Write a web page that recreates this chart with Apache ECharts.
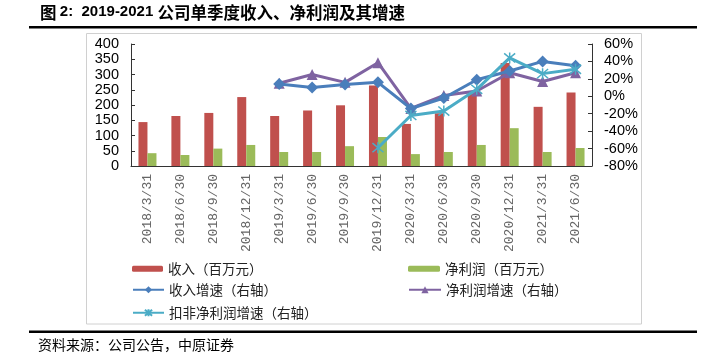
<!DOCTYPE html>
<html>
<head>
<meta charset="utf-8">
<script src="https://cdn.jsdelivr.net/npm/echarts@6/dist/echarts.min.js"></script>
<style>
html,body{margin:0;padding:0;background:#fff;}
#c{width:718px;height:363px;}
</style>
</head>
<body>
<div id="c"></div>
<script>
var categories = ['2018/3/31','2018/6/30','2018/9/30','2018/12/31','2019/3/31','2019/6/30','2019/9/30','2019/12/31','2020/3/31','2020/6/30','2020/9/30','2020/12/31','2021/3/31','2021/6/30'];
var revenue = [144, 164, 174, 226, 164, 182, 199, 264, 138, 173, 239, 338, 194, 241];
var netProfit = [42, 36, 57, 69, 46, 46, 65, 95, 39, 46, 69, 124, 46, 59];
var revenueGrowth = [null, null, null, null, 14, 10, 13.5, 16, -14, -2, 19, 29, 40, 35];
var profitGrowth = [null, null, null, null, 15, 25, 16, 38.5, -14, 1, 6, 27, 17, 27];
var deductedGrowth = [null, null, null, null, null, null, null, -59, -22, -17, 8, 44, 26, 31];
var leftTicks = {min: 0, max: 400, interval: 50};
var rightTicks = {min: -80, max: 60, interval: 20};

var chart = echarts.init(document.getElementById('c'));
var legendText = {fontFamily: 'Noto Sans CJK SC', fontSize: 13.5, color: '#222'};
function lg(name, left, top, w, h) {
  return {data: [name], left: left, top: top, padding: 0, itemWidth: w, itemHeight: h, itemGap: 0, textStyle: legendText, selectedMode: false};
}
var asterisk = 'path://M0,0L10,10M10,0L0,10M5,-1L5,11';
chart.setOption({
  animation: false,
  title: {show: false},
  graphic: [
    {type: 'text', left: 40, top: 4, style: {
      text: '{a|图} {b|2:  2019-2021 }{a|公司单季度收入、净利润及其增速}',
      rich: {
        a: {fontFamily: 'Noto Sans CJK SC', fontWeight: 'bold', fontSize: 16.5, fill: '#000'},
        b: {fontFamily: 'Liberation Sans', fontWeight: 'bold', fontSize: 15, fill: '#000'}
      }}},
    {type: 'rect', shape: {x: 29, y: 26, width: 668, height: 2.5}, style: {fill: '#000'}},
    {type: 'rect', shape: {x: 86.5, y: 33.5, width: 555, height: 290.5}, style: {fill: 'none', stroke: '#d0d0d0', lineWidth: 1}},
    {type: 'rect', shape: {x: 29, y: 330.5, width: 668, height: 2.5}, style: {fill: '#000'}},
    {type: 'text', left: 38, top: 338, style: {text: '资料来源：公司公告，中原证券', fontFamily: 'Noto Sans CJK SC', fontSize: 14, fill: '#000'}}
  ],
  legend: [
    lg('收入（百万元）', 132, 262, 31, 6),
    lg('净利润（百万元）', 408, 262, 32, 6),
    lg('收入增速（右轴）', 132, 283, 31, 9),
    lg('净利润增速（右轴）', 408, 283, 32, 9),
    lg('扣非净利润增速（右轴）', 132, 306, 31, 9)
  ],
  grid: {left: 131, right: 126, top: 44, bottom: 197, containLabel: false},
  xAxis: {
    type: 'category', data: categories, boundaryGap: true,
    axisLine: {lineStyle: {color: '#333', width: 1}},
    axisTick: {inside: true, length: 4, lineStyle: {color: '#333'}},
    axisLabel: {rotate: 90, margin: 8, interval: 0, fontFamily: 'Liberation Mono', fontSize: 13, color: '#666'}
  },
  yAxis: [
    {type: 'value', min: leftTicks.min, max: leftTicks.max, interval: leftTicks.interval,
     splitLine: {show: false},
     axisLine: {show: true, lineStyle: {color: '#333'}},
     axisTick: {show: true, inside: true, length: 4, lineStyle: {color: '#333'}},
     axisLabel: {margin: 12, fontFamily: 'Liberation Sans', fontSize: 14.5, color: '#000'}},
    {type: 'value', position: 'right', min: rightTicks.min, max: rightTicks.max, interval: rightTicks.interval,
     splitLine: {show: false},
     axisLine: {show: true, lineStyle: {color: '#333'}},
     axisTick: {show: true, inside: true, length: 4, lineStyle: {color: '#333'}},
     axisLabel: {margin: 12, formatter: '{value}%', fontFamily: 'Liberation Sans', fontSize: 14.5, color: '#000'}}
  ],
  series: [
    {name: '收入（百万元）', type: 'bar', data: revenue, barWidth: 9, barGap: '0%', itemStyle: {color: '#c0504d'}},
    {name: '净利润（百万元）', type: 'bar', data: netProfit, barWidth: 9, barGap: '0%', itemStyle: {color: '#9bbb59'}},
    {name: '收入增速（右轴）', type: 'line', yAxisIndex: 1, data: revenueGrowth, symbol: 'diamond', symbolSize: 12,
     lineStyle: {color: '#4a7ebb', width: 3}, itemStyle: {color: '#4a7ebb'}, z: 3},
    {name: '净利润增速（右轴）', type: 'line', yAxisIndex: 1, data: profitGrowth, symbol: 'triangle', symbolSize: 11,
     lineStyle: {color: '#7f63a1', width: 3}, itemStyle: {color: '#7f63a1'}, z: 2},
    {name: '扣非净利润增速（右轴）', type: 'line', yAxisIndex: 1, data: deductedGrowth, symbol: asterisk, symbolSize: 11,
     lineStyle: {color: '#4bacc6', width: 3}, itemStyle: {color: '#4bacc6', borderColor: '#4bacc6', borderWidth: 1.5}, z: 4}
  ]
});
</script>
</body>
</html>
